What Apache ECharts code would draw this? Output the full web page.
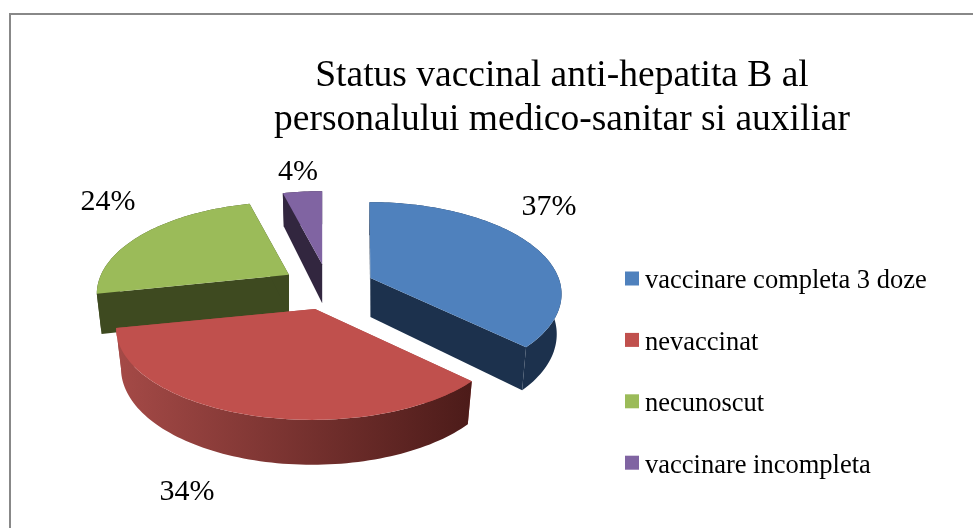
<!DOCTYPE html>
<html>
<head>
<meta charset="utf-8">
<style>
html, body { margin: 0; padding: 0; background: #fff; }
#chart { width: 973px; height: 528px; }
</style>
<script src="https://cdn.jsdelivr.net/npm/echarts@6/dist/echarts.min.js"></script>
</head>
<body>
<div id="chart"></div>
<script>
const titleText = 'Status vaccinal anti-hepatita B al\npersonalului medico-sanitar si auxiliar'
const categories = ['vaccinare completa 3 doze', 'nevaccinat', 'necunoscut', 'vaccinare incompleta']
const values = [37, 34, 24, 4]

// culori: fata de sus, peretele lateral (stanga -> dreapta)
const topColors = ['#4f81bd', '#c0504d', '#9bbb59', '#8064a2']
const sideColors = [['#1c314d', '#1c314d'], ['#a54a47', '#4c1b19'], ['#3e4a20', '#3e4a20'], ['#32263f', '#32263f']]
// centrul etichetelor cu procente
const labelSpots = [[549, 207], [187, 492], [108, 202], [298, 172]]
// corectii de perspectiva pentru arcul fiecarei felii
const arcShift = [[-1, -3], [-3, 0], [0, 0], [0, 0]]
const arcStretch = [1, 1.02, 1, 1]

// geometria pseudo-3D
const centerX = 328, centerY = 287
const explode = 46, explodeSquash = 0.5
const radiusX = 188, radiusY = 88
const perspective = 0.206
const depth = 39

const total = values.reduce((a, b) => a + b, 0)

function sliceAngles(index) {
    let start = -Math.PI / 2
    for (let i = 0; i < index; i++) start += values[i] / total * Math.PI * 2
    return [start, start + values[index] / total * Math.PI * 2]
}

function rimPoint(hub, stretch, angle, lower) {
    const u = Math.cos(angle), v = Math.sin(angle)
    const s = 1 / (1 - perspective * v)
    const x = hub[0] + radiusX * stretch * u * s * (lower ? 0.975 : 1)
    const y = hub[1] + radiusY * v * s
    return [x, lower ? y + depth * (1 + 0.15 * v) : y]
}

function arcPoints(hub, stretch, a0, a1, lower) {
    const steps = Math.max(4, Math.ceil((a1 - a0) * 40))
    const pts = []
    for (let i = 0; i <= steps; i++) pts.push(rimPoint(hub, stretch, a0 + (a1 - a0) * i / steps, lower))
    return pts
}

function renderSlice(index) {
    const [a0, a1] = sliceAngles(index)
    const mid = (a0 + a1) / 2
    const apex = [
        centerX + explode * Math.cos(mid),
        centerY + explode * explodeSquash * Math.sin(mid)
    ]
    const apexLow = [apex[0], apex[1] + depth]
    const hub = [apex[0] + arcShift[index][0], apex[1] + arcShift[index][1]]
    const side = sideColors[index]
    const wall = (points, fill) => ({ type: 'polygon', shape: { points: points }, style: { fill: fill }, silent: true })
    const upper = arcPoints(hub, arcStretch[index], a0, a1, false)
    const lower = arcPoints(hub, arcStretch[index], a0, a1, true)
    return {
        type: 'group',
        children: [
            wall([apex, upper[0], lower[0], apexLow], side[0]),
            wall([apex, upper[upper.length - 1], lower[lower.length - 1], apexLow], side[0]),
            wall(upper.concat(lower.slice().reverse()), new echarts.graphic.LinearGradient(0, 0, 1, 0, [
                { offset: 0, color: side[0] },
                { offset: 1, color: side[1] }
            ])),
            wall([apex].concat(upper), topColors[index]),
            {
                type: 'text',
                x: labelSpots[index][0],
                y: labelSpots[index][1],
                style: {
                    text: values[index] + '%',
                    fill: '#000',
                    font: '30px "Liberation Serif"',
                    align: 'center',
                    verticalAlign: 'middle'
                },
                silent: true
            }
        ]
    }
}

const myChart = echarts.init(document.getElementById('chart'), null, { renderer: 'canvas' })
myChart.setOption({
    animation: false,
    backgroundColor: '#fff',
    title: {
        text: titleText,
        left: 557,
        top: 49,
        textAlign: 'center',
        textStyle: {
            fontFamily: 'Liberation Serif',
            fontWeight: 'normal',
            fontSize: 37.5,
            lineHeight: 44,
            color: '#000'
        }
    },
    legend: {
        orient: 'vertical',
        left: 620,
        top: 257,
        padding: 5,
        itemWidth: 14,
        itemHeight: 14,
        itemGap: 28.4,
        icon: 'rect',
        selectedMode: false,
        data: categories,
        formatter: name => '{n|' + name + '}',
        textStyle: {
            rich: {
                n: {
                    fontFamily: 'Liberation Serif',
                    fontSize: 26.5,
                    lineHeight: 40,
                    color: '#000',
                    padding: [6, 0, 0, 1]
                }
            }
        }
    },
    graphic: [{
        type: 'polyline',
        shape: { points: [[10, 528], [10, 14], [973, 14]] },
        style: { stroke: '#888', lineWidth: 2, fill: null },
        silent: true
    }],
    series: categories.map((name, index) => {
        const [a0, a1] = sliceAngles(index)
        return {
            type: 'custom',
            name: name,
            coordinateSystem: 'none',
            z: 10 + 5 * Math.sin((a0 + a1) / 2),
            itemStyle: { color: topColors[index] },
            data: [values[index]],
            renderItem: () => renderSlice(index)
        }
    })
})
</script>
</body>
</html>
